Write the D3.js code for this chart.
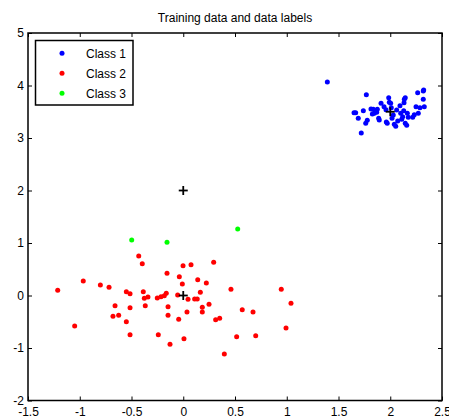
<!DOCTYPE html>
<html>
<head>
<meta charset="utf-8">
<script src="https://cdn.jsdelivr.net/npm/d3@7"></script>
<style>
  body { margin: 0; background: #fff; }
  svg { display: block; font-family: Arial, "Liberation Sans", sans-serif; }
</style>
</head>
<body>
<svg width="449" height="419"></svg>
<script>
// class 1 (blue) points
var class1 = [
  [1.392, 4.067], [1.769, 3.825], [1.650, 3.482], [1.666, 3.482], [1.691, 3.375],
  [1.740, 3.520], [1.720, 3.095], [1.763, 3.280], [1.778, 3.337], [1.814, 3.552],
  [1.836, 3.547], [1.856, 3.520], [1.875, 3.547], [1.827, 3.457], [1.846, 3.470],
  [1.869, 3.490], [1.888, 3.375], [1.894, 3.343], [1.911, 3.661], [1.940, 3.596],
  [1.959, 3.539], [1.962, 3.305], [1.971, 3.280], [1.985, 3.768], [1.991, 3.680],
  [2.004, 3.661], [2.010, 3.577], [2.017, 3.375], [2.029, 3.438], [2.039, 3.261],
  [2.053, 3.223], [2.062, 3.533], [2.072, 3.324], [2.094, 3.615], [2.101, 3.470],
  [2.120, 3.406], [2.111, 3.356], [2.136, 3.737], [2.145, 3.768], [2.133, 3.672],
  [2.130, 3.520], [2.145, 3.280], [2.159, 3.242], [2.165, 3.470], [2.174, 3.394],
  [2.217, 3.394], [2.232, 3.444], [2.249, 3.596], [2.265, 3.863], [2.271, 3.470],
  [2.287, 3.577], [2.319, 3.895], [2.323, 3.914], [2.319, 3.737], [2.329, 3.596]
];

// class 2 (red) points
var class2 = [
  [-1.213, 0.099], [-0.966, 0.276], [-0.801, 0.200], [-0.717, 0.156], [-1.049, -0.581],
  [-0.430, 0.752], [-0.396, 0.606], [-0.157, 0.423], [-0.002, 0.568], [0.075, 0.587],
  [0.294, 0.632], [-0.038, 0.358], [-0.009, 0.219], [0.140, 0.301], [0.223, 0.238],
  [0.461, 0.118], [0.947, 0.118], [1.041, -0.149], [0.165, 0.061], [-0.550, 0.072],
  [-0.514, 0.034], [-0.386, 0.072], [-0.376, -0.053], [-0.341, -0.029], [-0.251, -0.048],
  [-0.215, -0.023], [-0.183, -0.004], [-0.164, 0.042], [-0.054, 0.010], [0.046, -0.072],
  [0.110, -0.067], [0.135, -0.067], [-0.659, -0.194], [-0.514, -0.232], [-0.367, -0.194],
  [-0.147, -0.213], [0.249, -0.168], [0.184, -0.225], [0.184, -0.314], [0.036, -0.314],
  [-0.679, -0.397], [-0.624, -0.377], [-0.550, -0.499], [-0.147, -0.377], [-0.044, -0.453],
  [0.313, -0.461], [0.352, -0.434], [0.570, -0.270], [0.674, -0.314], [0.993, -0.619],
  [-0.514, -0.747], [-0.241, -0.747], [-0.128, -0.930], [0.007, -0.823], [0.516, -0.785],
  [0.700, -0.766], [0.397, -1.114]
];

// class 3 (green) points
var class3 = [[-0.498, 1.057], [-0.157, 1.013], [0.526, 1.267]];

// class centres (black plus signs)
var centres = [[0, 2], [0, 0], [2, 3.5]];

var classNames = ["Class 1", "Class 2", "Class 3"];
var classColors = ["#0000ff", "#ff0000", "#00ff00"];
var xTicks = [-1.5, -1, -0.5, 0, 0.5, 1, 1.5, 2, 2.5];
var yTicks = [-2, -1, 0, 1, 2, 3, 4, 5];
var title = "Training data and data labels";

var svg = d3.select("svg"),
    plotLeft = 28, plotRight = 442, plotTop = 33, plotBottom = 400.5;

var x = d3.scaleLinear().domain([-1.5, 2.5]).range([plotLeft, plotRight]);
var y = d3.scaleLinear().domain([-2, 5]).range([plotBottom, plotTop]);

var fmt = function(d) { return String(d); };

// axes with inward ticks on all four sides
function styleAxis(g) {
  g.select(".domain").remove();
  g.selectAll(".tick line").attr("stroke", "#000");
  g.selectAll(".tick text").attr("fill", "#000").attr("font-size", 12);
}

svg.append("g")
  .attr("transform", "translate(0," + plotBottom + ")")
  .call(d3.axisBottom(x).tickValues(xTicks).tickSizeInner(-4).tickSizeOuter(0).tickPadding(7).tickFormat(fmt))
  .call(styleAxis);

svg.append("g")
  .attr("transform", "translate(0," + plotTop + ")")
  .call(d3.axisTop(x).tickValues(xTicks).tickSizeInner(-4).tickSizeOuter(0).tickFormat(""))
  .call(styleAxis);

svg.append("g")
  .attr("transform", "translate(" + plotLeft + ",0)")
  .call(d3.axisLeft(y).tickValues(yTicks).tickSizeInner(-4).tickSizeOuter(0).tickPadding(4).tickFormat(fmt))
  .call(styleAxis);

svg.append("g")
  .attr("transform", "translate(" + plotRight + ",0)")
  .call(d3.axisRight(y).tickValues(yTicks).tickSizeInner(-4).tickSizeOuter(0).tickFormat(""))
  .call(styleAxis);

svg.append("rect")
  .attr("x", plotLeft).attr("y", plotTop)
  .attr("width", plotRight - plotLeft).attr("height", plotBottom - plotTop)
  .attr("fill", "none").attr("stroke", "#000").attr("stroke-width", 1.5);

// title
svg.append("text")
  .attr("x", (plotLeft + plotRight) / 2).attr("y", 21.5)
  .attr("text-anchor", "middle").attr("font-size", 12)
  .text(title);

// points
[class1, class2, class3].forEach(function(pts, i) {
  svg.append("g").selectAll("circle")
    .data(pts)
    .enter().append("circle")
      .attr("cx", function(d) { return x(d[0]); })
      .attr("cy", function(d) { return y(d[1]); })
      .attr("r", 2.5)
      .attr("fill", classColors[i]);
});

// centres
var cross = svg.append("g").selectAll("g")
  .data(centres)
  .enter().append("g")
    .attr("transform", function(d) { return "translate(" + x(d[0]) + "," + y(d[1]) + ")"; });
cross.append("line").attr("x1", -4.5).attr("x2", 4.5).attr("stroke", "#000").attr("stroke-width", 1.8);
cross.append("line").attr("y1", -4.5).attr("y2", 4.5).attr("stroke", "#000").attr("stroke-width", 1.8);

// legend
var legend = svg.append("g");
legend.append("rect")
  .attr("x", 35.5).attr("y", 40.5).attr("width", 97.5).attr("height", 64.5)
  .attr("fill", "#fff").attr("stroke", "#000").attr("stroke-width", 1.5);

var item = legend.selectAll(".item")
  .data(classNames)
  .enter().append("g")
    .attr("transform", function(d, i) { return "translate(0," + (53.3 + i * 20) + ")"; });
item.append("circle").attr("cx", 62).attr("r", 2.5).attr("fill", function(d, i) { return classColors[i]; });
item.append("text").attr("x", 86).attr("y", 4.3).attr("font-size", 12).text(function(d) { return d; });
</script>
</body>
</html>
